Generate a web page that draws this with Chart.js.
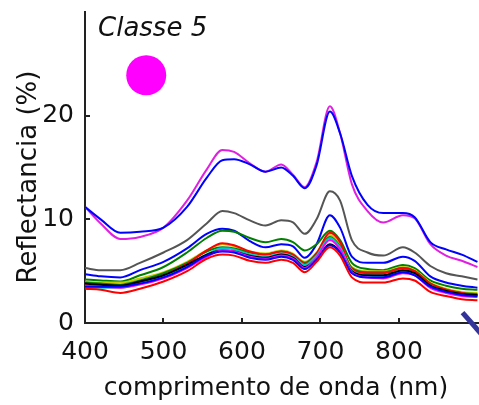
<!DOCTYPE html>
<html>
<head>
<meta charset="utf-8">
<script src="https://cdn.jsdelivr.net/npm/chart.js@4"></script>
<style>
  body { margin: 0; background: #fff; }
  #wrap { width: 479px; height: 405px; }
</style>
</head>
<body>
<div id="wrap"><canvas id="myChart" width="479" height="405"></canvas></div>
<script>
// wavelengths (nm) and reflectance (%) for each curve
var wavelengths = [400, 420, 445, 470, 500, 530, 555, 575, 590, 610, 630, 650, 665, 680, 695, 712, 725, 740, 760, 780, 805, 820, 840, 860, 880, 900];

var magentaTop = [11.2, 9.6, 8.1, 8.3, 9.2, 11.8, 14.8, 16.7, 16.5, 15.4, 14.6, 15.3, 14.3, 13.1, 15.5, 20.9, 18.3, 13.4, 10.8, 9.7, 10.4, 10.1, 7.6, 6.5, 6.0, 5.4];
var blueTop    = [11.2, 10.0, 8.7, 8.8, 9.2, 11.2, 14.0, 15.7, 15.8, 15.3, 14.6, 15.0, 14.2, 13.0, 15.2, 20.4, 18.3, 14.2, 11.4, 10.6, 10.6, 10.2, 7.8, 7.1, 6.6, 5.9];
var grayLine   = [5.3, 5.1, 5.1, 5.8, 6.8, 8.0, 9.6, 10.8, 10.6, 9.9, 9.4, 9.9, 9.7, 8.6, 10.0, 12.7, 11.8, 8.0, 6.8, 6.5, 7.3, 6.8, 5.5, 4.8, 4.5, 4.2];
var blueMid    = [4.7, 4.5, 4.4, 5.1, 5.9, 7.2, 8.6, 9.1, 8.9, 7.9, 7.3, 7.6, 7.4, 6.3, 7.6, 10.4, 9.2, 6.4, 5.8, 5.8, 6.4, 6.0, 4.5, 3.9, 3.6, 3.4];
var greenLine  = [4.2, 4.1, 4.0, 4.6, 5.4, 6.8, 8.2, 8.9, 8.8, 8.2, 7.8, 8.1, 7.8, 7.0, 7.6, 8.9, 8.0, 5.8, 5.2, 5.1, 5.6, 5.3, 4.1, 3.6, 3.3, 3.2];
var yellowLine = [4.0, 3.9, 3.9, 4.3, 4.9, 5.9, 7.0, 7.6, 7.4, 6.9, 6.7, 7.0, 6.7, 5.9, 6.8, 8.5, 7.6, 5.4, 5.0, 5.0, 5.4, 5.1, 3.9, 3.3, 3.0, 2.9];
var olive      = [3.9, 3.8, 3.7, 4.1, 4.8, 5.8, 6.9, 7.3, 7.2, 6.8, 6.6, 6.9, 6.6, 5.8, 6.7, 8.3, 7.4, 5.3, 4.9, 4.9, 5.3, 5.0, 3.8, 3.2, 2.9, 2.8];
var redUpper   = [3.7, 3.6, 3.5, 3.9, 4.6, 5.7, 7.0, 7.7, 7.5, 6.9, 6.6, 6.9, 6.6, 5.7, 6.7, 8.7, 7.8, 5.2, 4.8, 4.8, 5.3, 5.0, 3.8, 3.2, 2.9, 2.7];
var cyanLine   = [3.4, 3.4, 3.4, 3.8, 4.5, 5.5, 6.6, 7.2, 7.1, 6.6, 6.4, 6.7, 6.4, 5.6, 6.5, 8.2, 7.3, 5.1, 4.6, 4.5, 5.0, 4.7, 3.6, 3.0, 2.7, 2.6];
var blackLine  = [3.8, 3.7, 3.6, 4.0, 4.6, 5.6, 6.6, 7.0, 6.9, 6.5, 6.3, 6.6, 6.3, 5.4, 6.2, 7.6, 6.9, 5.0, 4.6, 4.6, 5.1, 4.8, 3.6, 3.1, 2.8, 2.7];
var magentaLow = [3.6, 3.5, 3.4, 3.7, 4.3, 5.3, 6.4, 7.0, 6.9, 6.4, 6.2, 6.5, 6.2, 5.3, 6.3, 8.0, 7.1, 4.9, 4.4, 4.3, 4.8, 4.6, 3.4, 2.9, 2.6, 2.5];
var blueLow    = [3.5, 3.5, 3.5, 3.8, 4.4, 5.4, 6.5, 6.9, 6.8, 6.3, 6.1, 6.4, 6.1, 5.2, 6.1, 7.5, 6.8, 4.8, 4.4, 4.4, 4.9, 4.6, 3.5, 3.0, 2.7, 2.6];
var redLow     = [3.3, 3.2, 2.9, 3.3, 4.0, 5.0, 6.2, 6.6, 6.5, 6.0, 5.8, 6.1, 5.8, 4.9, 5.9, 7.3, 6.5, 4.4, 3.9, 3.9, 4.3, 4.1, 3.0, 2.6, 2.3, 2.2];

var xTicks = [400, 500, 600, 700, 800];
var yTicks = [0, 10, 20];

// class marker and the arrow stub in the corner
var markerPoint = [{x: 478, y: 23.9}];
var arrowStub = [{x: 881, y: 1.0}, {x: 910, y: -1.5}];

function curve(values, color) {
    return {
        data: values.map(function (v, i) { return {x: wavelengths[i], y: v}; }),
        borderColor: color,
        borderWidth: 2,
        pointRadius: 0,
        cubicInterpolationMode: 'monotone',
        fill: false
    };
}

var FONT = 'DejaVu Sans';

var extras = {
    id: 'extras',
    afterDraw: function (chart) {
        var c = chart.ctx, xs = chart.scales.x, ys = chart.scales.y;
        c.save();
        c.strokeStyle = '#222';
        c.lineWidth = 2;
        xTicks.forEach(function (t) {
            var px = Math.round(xs.getPixelForValue(t));
            c.beginPath(); c.moveTo(px, ys.bottom); c.lineTo(px, ys.bottom - 5); c.stroke();
        });
        yTicks.forEach(function (t) {
            var py = Math.round(ys.getPixelForValue(t));
            c.beginPath(); c.moveTo(xs.left, py); c.lineTo(xs.left + 5, py); c.stroke();
        });
        c.fillStyle = '#111';
        c.textAlign = 'left';
        c.textBaseline = 'alphabetic';
        c.font = 'italic 26px "' + FONT + '"';
        c.fillText('Classe 5', 98, 36);
        c.textAlign = 'center';
        c.font = '25px "' + FONT + '"';
        c.fillText('comprimento de onda (nm)', 276, 395);
        c.translate(36, 177);
        c.rotate(-Math.PI / 2);
        c.font = '26px "' + FONT + '"';
        c.fillText('Reflectancia (%)', 0, 0);
        c.restore();
    }
};

var ctx = document.getElementById('myChart').getContext('2d');
var myChart = new Chart(ctx, {
    type: 'line',
    data: {
        datasets: [
            curve(redLow, '#ff0000'),
            curve(blueLow, '#0000ff'),
            curve(magentaLow, '#ff00ff'),
            curve(blackLine, '#000000'),
            curve(cyanLine, '#00c8c8'),
            curve(redUpper, '#ff0000'),
            curve(olive, '#008000'),
            curve(yellowLine, '#c8c800'),
            curve(greenLine, '#008000'),
            curve(blueMid, '#0000ff'),
            curve(grayLine, '#555555'),
            curve(blueTop, '#0000ff'),
            curve(magentaTop, '#e020e0'),
            {
                data: markerPoint,
                showLine: false,
                pointRadius: 20,
                pointBackgroundColor: '#ff00ff',
                pointBorderWidth: 0
            },
            {
                data: arrowStub,
                borderColor: '#333399',
                borderWidth: 5,
                pointRadius: 0,
                clip: false
            }
        ]
    },
    options: {
        responsive: false,
        animation: false,
        events: [],
        layout: { autoPadding: false, padding: { top: 12, right: 0, left: 0, bottom: 0 } },
        plugins: {
            legend: { display: false },
            tooltip: { enabled: false }
        },
        scales: {
            x: {
                type: 'linear',
                min: 400,
                max: 902,
                offset: false,
                afterBuildTicks: function (s) { s.ticks = xTicks.map(function (v) { return {value: v}; }); },
                afterFit: function (s) { s.height = 82; s.paddingLeft = 0; s.paddingRight = 0; },
                grid: { display: false, drawTicks: false },
                border: { display: true, color: '#222', width: 2 },
                ticks: { color: '#111', padding: 14, maxRotation: 0, font: { family: FONT, size: 25 } }
            },
            y: {
                min: 0,
                max: 30,
                afterBuildTicks: function (s) { s.ticks = yTicks.map(function (v) { return {value: v}; }); },
                afterFit: function (s) { s.width = 85; s.paddingTop = 0; s.paddingBottom = 0; },
                grid: { display: false, drawTicks: false },
                border: { display: true, color: '#222', width: 2 },
                ticks: { color: '#111', padding: 11, font: { family: FONT, size: 25 } }
            }
        }
    },
    plugins: [extras]
});
</script>
</body>
</html>
